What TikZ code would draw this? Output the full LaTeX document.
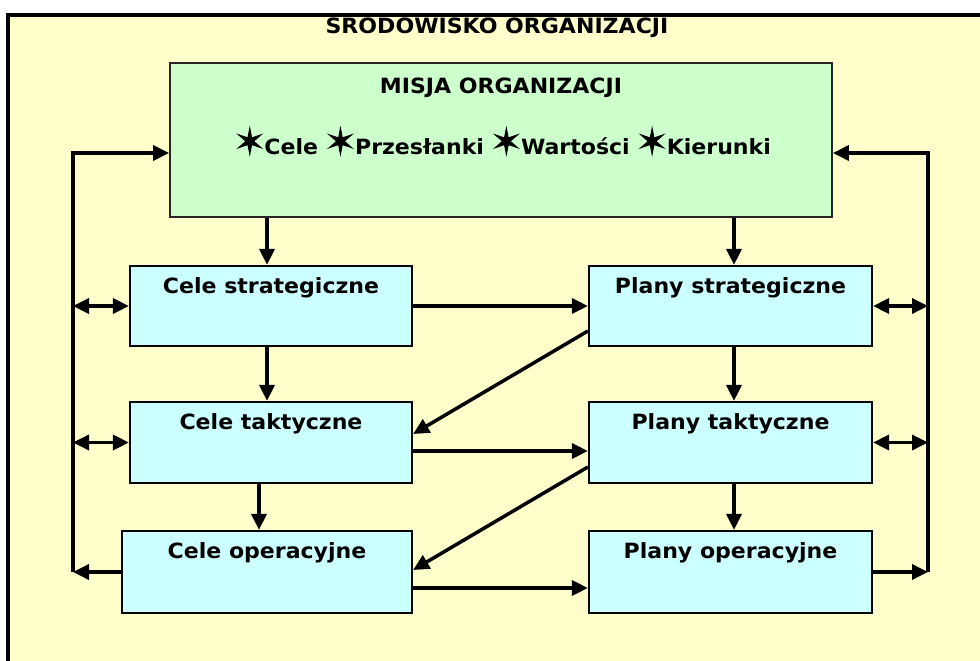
\documentclass[tikz,border=0pt]{standalone}
\usepackage{fontspec}
\setmainfont{DejaVu Sans}[FakeStretch=1.05]
\newfontfamily\starf{DejaVu Sans}[FakeBold=2.5]
\usetikzlibrary{arrows.meta,calc}
\definecolor{bgyellow}{HTML}{FFFFCC}
\definecolor{misjagreen}{HTML}{CCFFCC}
\definecolor{celeblue}{HTML}{CCFFFF}
\newcommand{\zstar}{{\starf\fontsize{35pt}{35pt}\selectfont ✶}}
\tikzset{
  bluebox/.style={draw=black, line width=2.2pt, fill=celeblue, inner sep=0pt, minimum width=282pt, minimum height=80pt},
  greenbox/.style={draw=black!85, line width=1.8pt, fill=misjagreen, inner sep=0pt},
  lbl/.style={font=\bfseries\fontsize{21pt}{23pt}\selectfont, inner sep=0pt, anchor=base},
  conn/.style={line width=3.5pt, -{Triangle[length=16pt,width=15pt]}},
  dconn/.style={line width=3.5pt, {Triangle[length=16pt,width=15pt]}-{Triangle[length=16pt,width=15pt]}}
}
\begin{document}
\begin{tikzpicture}[x=1pt,y=-1pt]
\clip (0,0) rectangle (980,661);
\fill[white] (0,0) rectangle (980,661);
% environment frame
\draw[line width=3.5pt, fill=bgyellow] (8,15) rectangle (1000,690);
\node[lbl] (env) at (497,34) {ŚRODOWISKO ORGANIZACJI};
% mission box
\node[greenbox, minimum width=662pt, minimum height=154pt] (misja) at (501,140) {};
\node[lbl] (misjat) at (501,93) {MISJA ORGANIZACJI};
\node[lbl] (misjal) at (503,154) {\zstar Cele \zstar Przesłanki \zstar Wartości \zstar Kierunki};
% boxes
\node[bluebox] (cs) at (271,306) {};
\node[bluebox, minimum height=81pt] (ct) at (271,442.5) {};
\node[bluebox, minimum width=290pt, minimum height=82pt] (co) at (267,572) {};
\node[bluebox, minimum width=283pt] (ps) at (730.5,306) {};
\node[bluebox, minimum width=283pt, minimum height=81pt] (pt) at (730.5,442.5) {};
\node[bluebox, minimum width=283pt, minimum height=82pt] (po) at (730.5,572) {};
\node[lbl] (csl) at ([yshift=-29pt]cs.north) {Cele strategiczne};
\node[lbl] (ctl) at ([yshift=-29pt]ct.north) {Cele taktyczne};
\node[lbl] (col) at ([yshift=-29pt]co.north) {Cele operacyjne};
\node[lbl] (psl) at ([yshift=-29pt]ps.north) {Plany strategiczne};
\node[lbl] (ptl) at ([yshift=-29pt]pt.north) {Plany taktyczne};
\node[lbl] (pol) at ([yshift=-29pt]po.north) {Plany operacyjne};
% feedback rails
\coordinate (L1) at (73,153);
\coordinate (L2) at (73,572);
\coordinate (R1) at (928,153);
\coordinate (R2) at (928,572);
\draw[conn] (L2) -- (L1) -- (L1 -| misja.west);
\draw[conn] (R2) -- (R1) -- (R1 -| misja.east);
\draw[conn] (co.west) -- (L2);
\draw[conn] (po.east) -- (R2);
\draw[dconn] (L1 |- cs.west) -- (cs.west);
\draw[dconn] (L1 |- ct.west) -- (ct.west);
\draw[dconn] (ps.east) -- (R1 |- ps.east);
\draw[dconn] (pt.east) -- (R1 |- pt.east);
% vertical flows
\draw[conn] ([xshift=-4pt]cs.north |- misja.south) -- ([xshift=-4pt]cs.north);
\draw[conn] ([xshift=-4pt]ct.north |- cs.south) -- ([xshift=-4pt]ct.north);
\draw[conn] ([xshift=-8pt]co.north |- ct.south) -- ([xshift=-8pt]co.north);
\draw[conn] ([xshift=3.5pt]ps.north |- misja.south) -- ([xshift=3.5pt]ps.north);
\draw[conn] ([xshift=3.5pt]pt.north |- ps.south) -- ([xshift=3.5pt]pt.north);
\draw[conn] ([xshift=3.5pt]po.north |- pt.south) -- ([xshift=3.5pt]po.north);
% horizontal flows
\draw[conn] (cs.east) -- (ps.west);
\draw[conn] ([yshift=-8.5pt]ct.east) -- ([yshift=-8.5pt]pt.west);
\draw[conn] ([yshift=-16pt]co.east) -- ([yshift=-16pt]po.west);
% diagonals
\draw[conn] ([yshift=-25pt]ps.west) -- ([yshift=8.5pt]ct.east);
\draw[conn] ([yshift=-24.5pt]pt.west) -- ([yshift=2pt]co.east);
\end{tikzpicture}
\end{document}
